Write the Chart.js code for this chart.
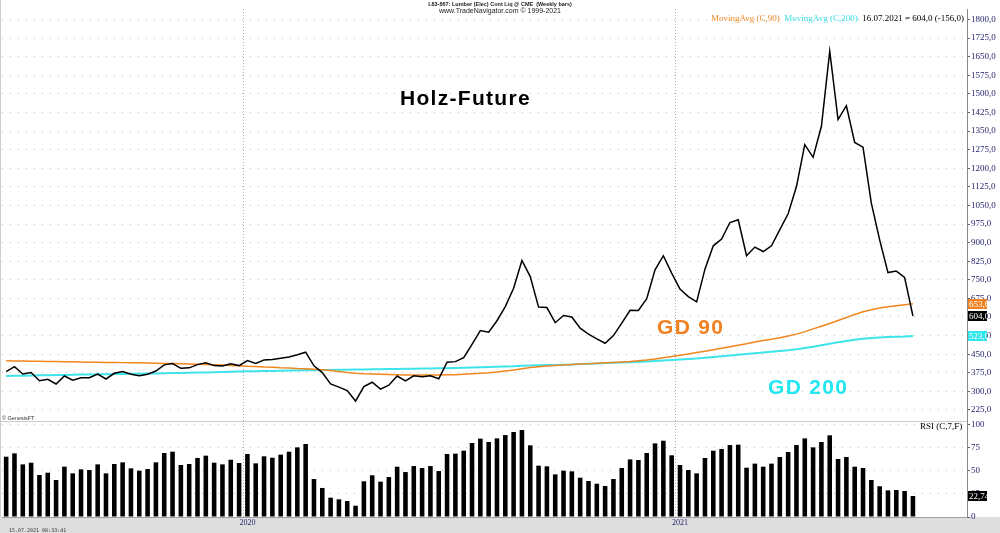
<!DOCTYPE html>
<html>
<head>
<meta charset="utf-8">
<title>Holz-Future</title>
<script src="https://cdn.jsdelivr.net/npm/chart.js@4.4.1/dist/chart.umd.min.js"></script>
<style>
  body { margin: 0; background: #fff; }
  #wrap { position: relative; width: 1000px; height: 533px; overflow: hidden; }
  #wrap canvas { position: absolute; left: 0; top: 0; }
  .t { position: absolute; white-space: nowrap; line-height: 1; }
  .big { font-family: "Liberation Sans", Arial, sans-serif; font-weight: bold; font-size: 21px; letter-spacing: 1.3px; }
  .serif { font-family: "Liberation Serif", "Times New Roman", serif; font-size: 9px; color: #000; }
</style>
</head>
<body>
<div id="wrap">
  <canvas id="chart" width="1000" height="533"></canvas>
  <div class="t" style="left:0;width:1000px;top:1px;text-align:center;font:bold 5.5px 'Liberation Sans',Arial,sans-serif;color:#222;">L83-867: Lumber (Elec) Cont Liq @ CME&nbsp; (Weekly bars)</div>
  <div class="t" style="left:0;width:1000px;top:7px;text-align:center;font:7px 'Liberation Sans',Arial,sans-serif;color:#222;">www.TradeNavigator.com © 1999-2021</div>
  <div class="t serif" id="hdr" style="right:36px;top:13.5px;"></div>
  <div class="t big" style="left:400px;top:86.5px;color:#000;">Holz-Future</div>
  <div class="t big" style="left:657px;top:315.5px;color:#f08020;">GD 90</div>
  <div class="t big" style="left:768px;top:375.5px;color:#22e6f0;">GD 200</div>
  <div class="t" style="left:2px;top:415px;font:5.5px 'Liberation Sans',Arial,sans-serif;color:#333;">© GenesisFT</div>
  <div class="t serif" style="left:920px;top:421.5px;">RSI (C,7,F)</div>
  <div class="t" style="left:9px;top:526.5px;font:5px 'DejaVu Sans Mono',monospace;color:#333;">15.07.2021 08:33:41</div>
</div>
<script>
// weekly bars, first week 14.06.2019, last 16.07.2021 (+6 empty weeks on the right)
var firstWeek = Date.UTC(2019, 5, 14);
var emptyWeeks = 6;

var closes = [
  380,400,370,376,343,349,330,362,345,355,
  355,370,350,373,380,369,363,369,382,407,
  412,393,395,408,415,404,402,411,404,424,
  413,427,429,434,439,448,458,403,376,330,
  317,303,261,319,337,309,325,362,342,363,
  359,363,351,418,420,436,490,545,539,585,
  642,716,828,763,640,638,577,606,600,555,
  531,512,494,525,575,627,626,674,790,847,
  777,713,682,661,793,887,914,981,992,847,
  882,864,887,952,1016,1126,1295,1244,1369,1672,
  1396,1452,1304,1285,1059,911,779,785,760,604
];
var ma90 = [
  424,423,423,422,422,421,421,420,420,419,
  418,418,417,417,416,415,415,414,413,412,
  412,411,410,409,408,407,406,404,403,401,
  400,398,397,395,394,392,391,389,387,384,
  380,376,373,371,370,369,368,367,366,366,
  366,366,366,367,367,369,371,373,375,378,
  382,386,391,396,399,402,404,406,408,410,
  411,413,415,417,419,421,424,427,431,436,
  441,446,451,457,462,468,474,480,486,492,
  499,505,510,516,523,531,541,552,563,574,
  586,598,610,621,629,636,641,645,649,653.6
];
var ma200 = [
  362,363,363,364,365,365,366,366,367,368,
  368,369,369,370,370,371,371,372,372,373,
  374,374,375,376,376,377,378,379,380,381,
  381,382,382,383,384,384,385,385,386,386,
  387,387,388,388,389,389,390,390,391,391,
  392,392,393,393,394,395,396,397,398,399,
  400,401,403,404,405,406,406,407,408,410,
  411,412,414,415,416,418,419,421,423,425,
  427,429,431,433,436,439,442,445,448,451,
  454,457,460,463,466,470,475,480,486,492,
  498,503,508,512,515,517,519,520,521,523
];
var rsi = [
  65.2,68.8,56.9,58.7,45.4,47.9,40,54.4,47.2,51.5,
  50.8,56.9,47.2,57.3,59.1,52.6,50.1,51.9,59.1,69.2,
  70.6,56.2,57.3,63.8,66.3,58.7,56.9,61.9,58.4,68.1,
  58,65.6,64.1,67.4,70.6,75.3,78.9,41.1,31.4,20.9,
  19.1,17.3,12.2,38.6,45.1,38.2,43.2,54.4,48.6,55.1,
  53,55.1,49.7,68.1,68.5,71.7,80,84.7,81.1,85,
  88.6,91.9,94.1,77.5,55.5,54.8,46.1,50.1,49.4,42.5,
  38.9,36,33.5,41.1,53,62.3,61.6,69.2,79.6,82.5,
  66.7,56.2,50.8,47.2,63.8,71.7,73.5,77.8,78.2,53.3,
  57.7,54.4,57.7,64.9,70.3,77.8,85,75.3,81.1,88.3,
  62.7,64.9,54.4,53,40,33.2,28.8,29.2,28.1,22.74
];
var priceTicksStep = 75;
var rsiTicksStep = 25;

var weeks = [];
for (var i = 0; i < closes.length + emptyWeeks; i++) {
  weeks.push(new Date(firstWeek + i * 7 * 86400000).toISOString().slice(0, 10));
}
var yearStart = new Set();
for (var i = 1; i < weeks.length; i++) {
  if (weeks[i].slice(0, 4) != weeks[i - 1].slice(0, 4)) yearStart.add(i);
}

function comma(v, d) { return v.toFixed(d).replace('.', ','); }

var last = closes.length - 1;
var lastDate = weeks[last].split('-').reverse().join('.');
var chg = closes[last] - closes[last - 1];
document.getElementById('hdr').innerHTML =
  '<span style="color:#f08a2a">MovingAvg (C,90)</span>&nbsp; ' +
  '<span style="color:#3adfe6">MovingAvg (C,200)</span>&nbsp; ' +
  lastDate + ' = ' + comma(closes[last], 1) + ' (' + comma(chg, 1) + ')';

var serif = 'Liberation Serif';
var navy = '#24246e';

function valueBox(ctx, y, text, bg, w) {
  ctx.fillStyle = bg;
  ctx.fillRect(968, Math.round(y) - 5, w, 10);
  ctx.fillStyle = '#fff';
  ctx.font = '9px ' + serif;
  ctx.textBaseline = 'middle';
  ctx.textAlign = 'left';
  ctx.fillText(text, 969, Math.round(y) + 0.5);
}

var frame = {
  id: 'frame',
  beforeDraw: function(chart) {
    var ctx = chart.ctx, x = chart.scales.x;
    ctx.save();
    ctx.fillStyle = '#fff';
    ctx.fillRect(0, 0, chart.width, chart.height);
    ctx.fillStyle = '#dedede';
    ctx.fillRect(0, x.top, chart.width, chart.height - x.top);
    ctx.restore();
  },
  afterDraw: function(chart) {
    var ctx = chart.ctx, yp = chart.scales.yPrice, yr = chart.scales.yRsi;
    ctx.save();
    ctx.strokeStyle = '#cccccc';
    ctx.lineWidth = 1;
    ctx.beginPath();
    ctx.moveTo(0, Math.round(yr.top) + 0.5);
    ctx.lineTo(chart.chartArea.right, Math.round(yr.top) + 0.5);
    ctx.moveTo(0.5, 0);
    ctx.lineTo(0.5, chart.scales.x.top);
    ctx.stroke();
    valueBox(ctx, yp.getPixelForValue(ma90[last]), comma(ma90[last], 1), '#f08020', 19);
    valueBox(ctx, yp.getPixelForValue(closes[last]), comma(closes[last], 1), '#000', 19);
    valueBox(ctx, yp.getPixelForValue(ma200[last]), comma(ma200[last], 1), '#2ee6ee', 19);
    valueBox(ctx, yr.getPixelForValue(rsi[last]), comma(rsi[last], 2), '#000', 19);
    ctx.restore();
  }
};

new Chart(document.getElementById('chart'), {
  type: 'bar',
  data: {
    labels: weeks,
    datasets: [
      { type: 'line', label: 'Lumber', data: closes, yAxisID: 'yPrice',
        borderColor: '#000', borderWidth: 1.5, pointRadius: 0, tension: 0 },
      { type: 'line', label: 'MovingAvg (C,90)', data: ma90, yAxisID: 'yPrice',
        borderColor: '#f0861e', borderWidth: 1.5, pointRadius: 0 },
      { type: 'line', label: 'MovingAvg (C,200)', data: ma200, yAxisID: 'yPrice',
        borderColor: '#3ee4ea', borderWidth: 2, pointRadius: 0 },
      { type: 'bar', label: 'RSI (C,7,F)', data: rsi, yAxisID: 'yRsi',
        backgroundColor: '#000', barPercentage: 0.55, categoryPercentage: 1 }
    ]
  },
  options: {
    responsive: false,
    animation: false,
    events: [],
    devicePixelRatio: 1,
    layout: { padding: { top: 9, left: 2, right: 0, bottom: 0 } },
    plugins: { legend: { display: false }, tooltip: { enabled: false } },
    scales: {
      x: {
        type: 'category',
        offset: true,
        grid: {
          offset: true, drawTicks: false,
          color: function(c) { return yearStart.has(c.index) ? '#b0b0b0' : 'rgba(0,0,0,0)'; }
        },
        border: { color: '#a0a0a0', dash: [1, 2] },
        ticks: {
          autoSkip: false, maxRotation: 0, minRotation: 0, padding: 1, color: navy,
          font: { family: serif, size: 8 },
          callback: function(v, i) { return yearStart.has(i) ? weeks[i].slice(0, 4) : ''; }
        },
        afterFit: function(s) { s.height = 16; }
      },
      yPrice: {
        type: 'linear', position: 'right', stack: 'panes', stackWeight: 412,
        min: 180.6, max: 1842,
        grid: { color: '#c4c4c4', tickColor: '#666', tickLength: 3 },
        border: { color: '#888', dash: [1, 7] },
        ticks: {
          stepSize: priceTicksStep, includeBounds: false, autoSkip: false, padding: 1, color: navy,
          font: { family: serif, size: 9 },
          callback: function(v) { return comma(v, 1); }
        },
        afterFit: function(s) { s.width = 33; }
      },
      yRsi: {
        type: 'linear', position: 'right', stack: 'panes', stackWeight: 96,
        min: 0, max: 103.8,
        grid: { color: '#c4c4c4', tickColor: '#666', tickLength: 3 },
        border: { color: '#888', dash: [1, 7] },
        ticks: {
          stepSize: rsiTicksStep, includeBounds: false, autoSkip: false, padding: 1, color: navy,
          font: { family: serif, size: 9 },
          callback: function(v) { return String(v); }
        },
        afterFit: function(s) { s.width = 33; }
      }
    }
  },
  plugins: [frame]
});
</script>
</body>
</html>
